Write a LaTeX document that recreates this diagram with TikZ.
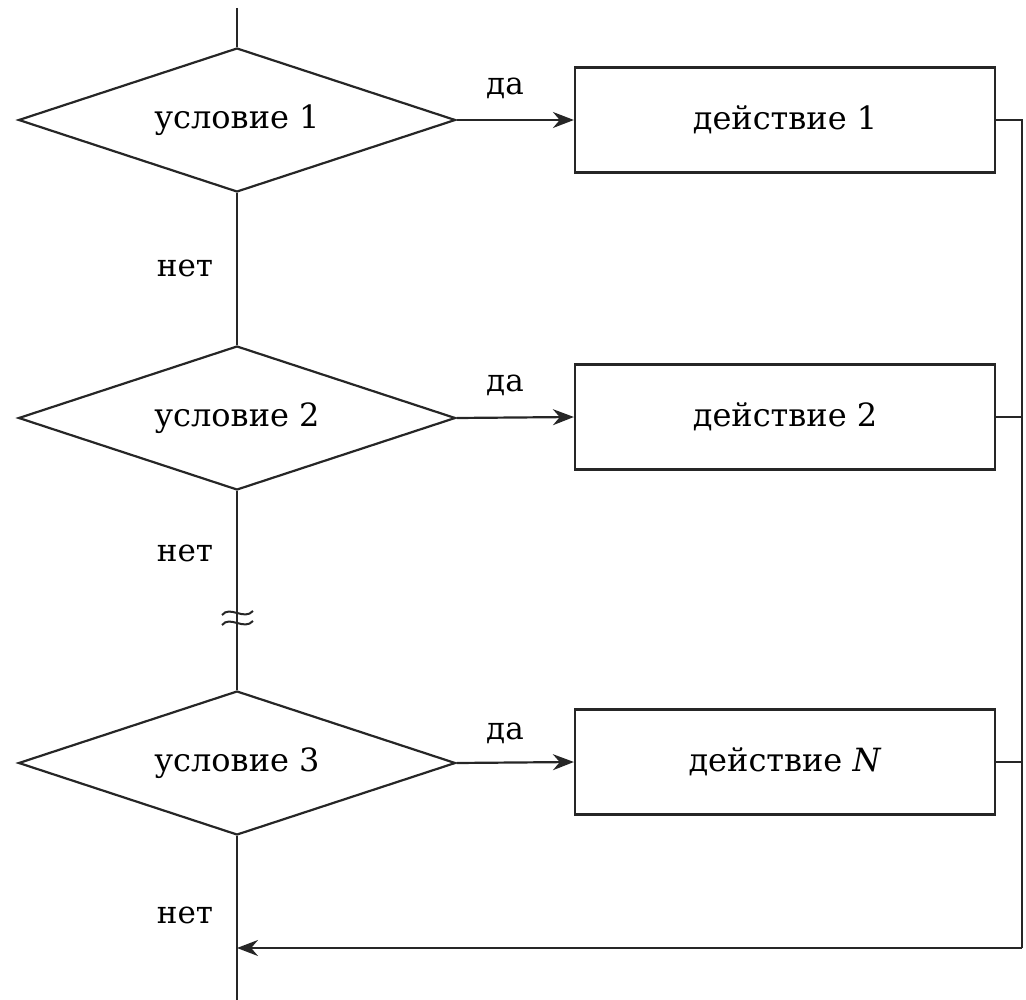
\documentclass[tikz,border=0pt]{standalone}
\usepackage{fontspec}
\setmainfont{DejaVu Serif}
\usetikzlibrary{shapes.geometric,arrows.meta}
\begin{document}
\begin{tikzpicture}[x=1pt,y=-1pt,line width=2.2pt,draw=black!85,
  cond/.style={diamond,aspect=3,inner sep=0pt,minimum width=437pt,minimum height=144pt,draw,
    font=\fontsize{32}{38}\selectfont},
  act/.style={rectangle,inner sep=0pt,minimum width=420pt,minimum height=105pt,draw,
    font=\fontsize{32}{38}\selectfont},
  lbl/.style={font=\fontsize{31}{36}\selectfont,inner sep=0pt},
  arr/.style={-{Stealth[length=21pt,width=16pt]}}]
\useasboundingbox (0,0) rectangle (1026,1000);

% decisions and actions
\node[cond] (d1) at (237,120) {условие 1};
\node[cond] (d2) at (237,418) {условие 2};
\node[cond] (d3) at (237,763) {условие 3};
\node[act] (b1) at (785,120) {действие 1};
\node[act] (b2) at (785,417) {действие 2};
\node[act] (bN) at (785,762) {действие \textit{N}};

% free ends and corners of the collecting line
\coordinate (start) at (237,8);
\coordinate (end) at (237,1000);
\coordinate (r1) at (1022,120);
\coordinate (r2) at (1022,417);
\coordinate (rN) at (1022,762);
\coordinate (rb) at (1022,948);
\coordinate (m) at (237,948);

% main vertical flow
\draw (start) -- (d1.north);
\draw (d1.south) -- (d2.north);
\draw (d2.south) -- (d3.north);
\draw (d3.south) -- (end);
\node[lbl] (n1) at (185,268) {нет};
\node[lbl] (n2) at (185,553) {нет};
\node[lbl] (n3) at (185,915) {нет};

% break mark on the interrupted branch
\draw[line width=2pt] (222,615) .. controls (230,605) and (244,621) .. (253,611);
\draw[line width=2pt] (222,625) .. controls (230,615) and (244,631) .. (253,621);

% "yes" branches
\draw[arr] (d1.east) -- (b1.west);
\draw[arr] (d2.east) -- (b2.west);
\draw[arr] (d3.east) -- (bN.west);
\node[lbl] (y1) at (505,88) {да};
\node[lbl] (y2) at (505,385) {да};
\node[lbl] (y3) at (505,733) {да};

% return line
\draw (b1.east) -- (r1) -- (rb);
\draw (b2.east) -- (r2);
\draw (bN.east) -- (rN);
\draw[arr] (rb) -- (m);
\end{tikzpicture}
\end{document}
